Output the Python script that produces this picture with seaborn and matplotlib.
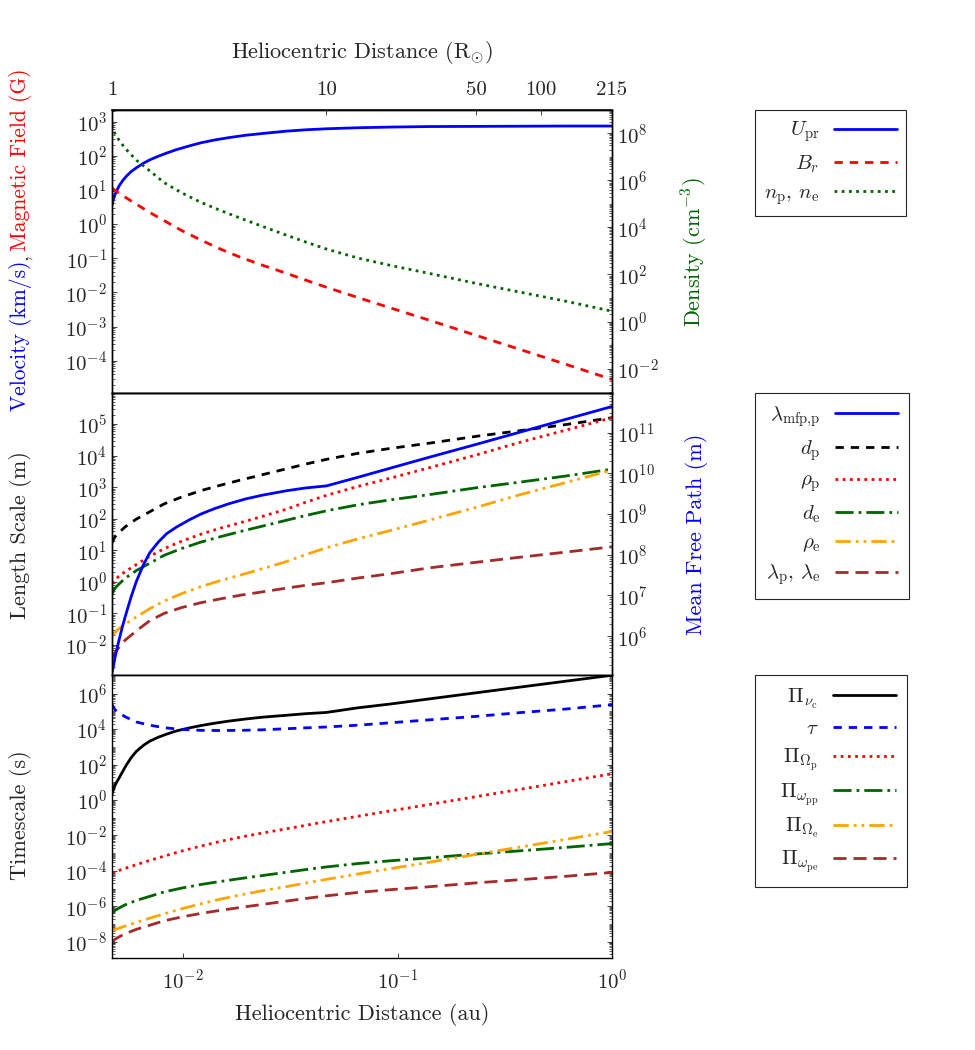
import numpy as np
import pandas as pd
import matplotlib
matplotlib.use('Agg')
import matplotlib.pyplot as plt
import seaborn as sns
from matplotlib.ticker import LogLocator, NullLocator, FixedLocator, NullFormatter

sns.set_theme(style='ticks')
plt.rcParams['font.family'] = 'serif'
plt.rcParams['font.serif'] = ['cmr10']
plt.rcParams['mathtext.fontset'] = 'cm'
plt.rcParams['axes.formatter.use_mathtext'] = True

# heliocentric distance in solar radii (215 R_sun = 1 au)
r_sun = [1, 1.03, 1.07, 1.15, 1.3, 1.5, 1.75, 2.1, 2.6, 3.2, 4, 5, 6.5, 8,
         10, 14, 20, 30, 50, 80, 130, 215]
# finer sampling for the curves that turn sharply near the Sun
r_fine = [1, 1.01, 1.03, 1.05, 1.08, 1.12, 1.17, 1.23, 1.3, 1.4, 1.5, 1.65, 1.8,
          2.0, 2.3, 2.6, 3.0, 3.5, 4.2, 5, 6.5, 8, 10, 14, 20, 30, 50, 80, 130, 215]

# panel 1 (log10 of values)
log_u_pr = [0.55, 0.68, 0.85, 0.97, 1.12, 1.27, 1.41, 1.54, 1.65, 1.78, 1.88, 1.99,
            2.08, 2.18, 2.29, 2.38, 2.46, 2.53, 2.60, 2.65, 2.72, 2.76, 2.79, 2.82,
            2.84, 2.855, 2.86, 2.865, 2.87, 2.87]
log_b_r = [1.05, 0.99, 0.92, 0.79, 0.58, 0.34, 0.10, -0.18, -0.47, -0.73, -0.98,
           -1.20, -1.44, -1.64, -1.85, -2.15, -2.46, -2.81, -3.26, -3.67, -4.10, -4.55]
log_n = [8.35, 8.0, 7.75, 7.36, 6.85, 6.40, 5.90, 5.48, 5.06, 4.72, 4.38, 4.05,
         3.67, 3.38, 3.08, 2.70, 2.38, 2.05, 1.62, 1.25, 0.87, 0.44]

# panel 2
log_mfp = [5.1, 5.2, 5.45, 5.65, 5.92, 6.25, 6.6, 6.98, 7.35, 7.75, 8.05, 8.32,
           8.52, 8.68, 8.86, 9.0, 9.13, 9.25, 9.37, 9.46, 9.57, 9.64, 9.69, 9.9,
           10.13, 10.39, 10.71, 11.01, 11.32, 11.64]
log_d_p = [1.24, 1.42, 1.54, 1.74, 1.99, 2.22, 2.47, 2.68, 2.89, 3.06, 3.23, 3.39,
           3.58, 3.73, 3.88, 4.07, 4.23, 4.39, 4.61, 4.79, 4.98, 5.20]
log_rho_p = [-0.05, 0.05, 0.16, 0.32, 0.55, 0.81, 1.05, 1.28, 1.51, 1.70, 1.88, 2.07,
             2.30, 2.52, 2.74, 3.02, 3.29, 3.61, 4.02, 4.42, 4.80, 5.20]
log_d_e = [-0.39, -0.21, -0.09, 0.11, 0.36, 0.59, 0.84, 1.05, 1.26, 1.43, 1.60, 1.76,
           1.95, 2.10, 2.25, 2.44, 2.60, 2.76, 2.98, 3.16, 3.35, 3.57]
log_rho_e = [-1.71, -1.61, -1.50, -1.34, -1.11, -0.85, -0.61, -0.38, -0.15, 0.04, 0.22,
             0.41, 0.64, 0.86, 1.08, 1.36, 1.63, 1.95, 2.36, 2.76, 3.14, 3.54]
log_debye = [-2.4, -2.25, -2.1, -1.85, -1.55, -1.23, -1.0, -0.82, -0.66, -0.54, -0.42,
             -0.32, -0.2, -0.11, -0.03, 0.12, 0.26, 0.44, 0.62, 0.78, 0.94, 1.11]

# panel 3
log_pi_nu = [0.29, 0.5, 0.8, 1.0, 1.25, 1.6, 2.0, 2.4, 2.75, 3.08, 3.32, 3.55, 3.72,
             3.9, 4.07, 4.2, 4.33, 4.45, 4.57, 4.67, 4.78, 4.87, 4.94, 5.2, 5.42,
             5.7, 6.05, 6.37, 6.7, 7.04]
log_tau = [5.4, 5.1, 4.95, 4.7, 4.4, 4.22, 4.08, 3.98, 3.93, 3.92, 3.93, 3.96,
           4.02, 4.07, 4.12, 4.22, 4.36, 4.52, 4.72, 4.93, 5.13, 5.38]
log_pi_op = [-4.12, -4.06, -3.99, -3.86, -3.65, -3.41, -3.17, -2.89, -2.60, -2.34, -2.09,
             -1.87, -1.63, -1.43, -1.22, -0.92, -0.61, -0.26, 0.19, 0.60, 1.03, 1.48]
log_pi_wpp = [-6.42, -6.24, -6.12, -5.92, -5.67, -5.44, -5.19, -4.98, -4.77, -4.60, -4.43,
              -4.27, -4.08, -3.93, -3.78, -3.59, -3.43, -3.27, -3.05, -2.87, -2.68, -2.46]
log_pi_oe = [-7.38, -7.32, -7.25, -7.12, -6.91, -6.67, -6.43, -6.15, -5.86, -5.60, -5.35,
             -5.13, -4.89, -4.69, -4.48, -4.18, -3.87, -3.52, -3.07, -2.66, -2.23, -1.78]
log_pi_wpe = [-8.05, -7.87, -7.75, -7.55, -7.30, -7.07, -6.82, -6.61, -6.40, -6.23, -6.06,
              -5.90, -5.71, -5.56, -5.41, -5.22, -5.06, -4.90, -4.68, -4.50, -4.31, -4.09]

FS = 15
LFS = 16
LW = 2
DASH = (0, (3, 2.5))
DOT = (0, (1, 1.6))
LDASH = (0, (4.7, 2.5))
DASHDOT = (0, (6.5, 1.8, 1, 1.8))
DASHDOTDOT = (0, (5.5, 1.8, 1, 1.8, 1, 1.8))
BLUE, RED, GREEN = '#0000ff', '#ff0000', '#006400'
ORANGE, BROWN = '#ffa500', '#a52a2a'


def draw(ax, logs, color, ls, label, r=r_sun):
    df = pd.DataFrame({'au': np.array(r) / 215.0, 'val': 10 ** np.array(logs)})
    sns.lineplot(data=df, x='au', y='val', ax=ax, color=color, linestyle=ls,
                 lw=LW, label=label, legend=False, sort=False)


def style_y(ax, majors):
    ax.yaxis.set_major_locator(FixedLocator(majors))
    ax.yaxis.set_minor_locator(LogLocator(base=10, subs=np.arange(1, 10), numticks=100))
    ax.yaxis.set_minor_formatter(NullFormatter())
    ax.tick_params(axis='y', which='both', direction='in', labelsize=FS)
    ax.tick_params(axis='y', which='major', length=3.5, width=0.6)
    ax.tick_params(axis='y', which='minor', length=2, width=0.5)
    ax.set_ylabel('')


def add_legend(ax, handles, labels, bpad=0.55):
    leg = ax.legend(handles, labels, loc='upper left', bbox_to_anchor=(1.286, 1.0),
                    borderaxespad=0, markerfirst=False, fontsize=FS, handlelength=3.0,
                    handletextpad=0.7, labelspacing=0.42, borderpad=bpad,
                    fancybox=False, framealpha=1, edgecolor='0.15')
    leg.get_frame().set_linewidth(0.8)


fig = plt.figure(figsize=(9.75, 10.5), dpi=100)
gs = fig.add_gridspec(3, 1, left=0.1149, right=0.6277, top=0.895, bottom=0.0879, hspace=0)
ax1 = fig.add_subplot(gs[0])
ax2 = fig.add_subplot(gs[1], sharex=ax1)
ax3 = fig.add_subplot(gs[2], sharex=ax1)
ax1b = ax1.twinx()
ax2b = ax2.twinx()

for a in (ax1, ax2, ax3, ax1b, ax2b):
    a.set_xscale('log')
    a.set_yscale('log')
    for s in a.spines.values():
        s.set_linewidth(1.0)
        s.set_color('black')

# panel 1 ---------------------------------------------------------------------
draw(ax1, log_u_pr, BLUE, '-', r'$U_{\mathrm{pr}}$', r_fine)
draw(ax1, log_b_r, RED, DASH, r'$B_r$')
draw(ax1b, log_n, GREEN, DOT, r'$n_{\mathrm{p}}$, $n_{\mathrm{e}}$')
ax1.set_ylim(1.15e-5, 2.15e3)
ax1b.set_ylim(9.5e-4, 9.4e8)
style_y(ax1, [1e-4, 1e-3, 1e-2, 1e-1, 1, 1e1, 1e2, 1e3])
style_y(ax1b, [1e-2, 1, 1e2, 1e4, 1e6, 1e8])
h1, l1 = ax1.get_legend_handles_labels()
h1b, l1b = ax1b.get_legend_handles_labels()
add_legend(ax1b, h1 + h1b, l1 + l1b, bpad=0.45)

# panel 2 ---------------------------------------------------------------------
draw(ax2b, log_mfp, BLUE, '-', r'$\lambda_{\mathrm{mfp{,}p}}$', r_fine)
draw(ax2, log_d_p, 'black', DASH, r'$d_{\mathrm{p}}$')
draw(ax2, log_rho_p, RED, DOT, r'$\rho_{\mathrm{p}}$')
draw(ax2, log_d_e, GREEN, DASHDOT, r'$d_{\mathrm{e}}$')
draw(ax2, log_rho_e, ORANGE, DASHDOTDOT, r'$\rho_{\mathrm{e}}$')
draw(ax2, log_debye, BROWN, LDASH, r'$\lambda_{\mathrm{p}}$, $\lambda_{\mathrm{e}}$')
ax2.set_ylim(1.1e-3, 9.8e5)
ax2b.set_ylim(1.1e5, 9.5e11)
style_y(ax2, [1e-2, 1e-1, 1, 1e1, 1e2, 1e3, 1e4, 1e5])
style_y(ax2b, [1e6, 1e7, 1e8, 1e9, 1e10, 1e11])
h2, l2 = ax2.get_legend_handles_labels()
h2b, l2b = ax2b.get_legend_handles_labels()
add_legend(ax2b, h2b + h2, l2b + l2)

# panel 3 ---------------------------------------------------------------------
# \hspace on the first label keeps this legend box as wide as the other two
draw(ax3, log_pi_nu, 'black', '-', r'$\hspace{1.2}\Pi_{\nu_{\mathrm{c}}}$', r_fine)
draw(ax3, log_tau, BLUE, DASH, r'$\tau$')
draw(ax3, log_pi_op, RED, DOT, r'$\Pi_{\Omega_{\mathrm{p}}}$')
draw(ax3, log_pi_wpp, GREEN, DASHDOT, r'$\Pi_{\omega_{\mathrm{pp}}}$')
draw(ax3, log_pi_oe, ORANGE, DASHDOTDOT, r'$\Pi_{\Omega_{\mathrm{e}}}$')
draw(ax3, log_pi_wpe, BROWN, LDASH, r'$\Pi_{\omega_{\mathrm{pe}}}$')
ax3.set_ylim(1.25e-9, 1.1e7)
style_y(ax3, [1e-8, 1e-6, 1e-4, 1e-2, 1, 1e2, 1e4, 1e6])
ax3.tick_params(axis='y', which='both', right=True)
h3, l3 = ax3.get_legend_handles_labels()
add_legend(ax3, h3, l3)

# x axes ----------------------------------------------------------------------
ax1.set_xlim(1 / 215.0, 1.0)
for a in (ax1, ax2, ax3, ax1b, ax2b):
    a.xaxis.set_minor_locator(NullLocator())
    a.set_xlabel('')
for a in (ax1, ax2, ax1b, ax2b):
    a.tick_params(axis='x', which='both', bottom=False, top=False, labelbottom=False)
ax3.set_xticks([1e-2, 1e-1, 1])
ax3.tick_params(axis='x', direction='in', length=3.5, width=0.6, labelsize=FS, pad=8)
ax3.set_xlabel('Heliocentric Distance (au)', fontsize=LFS, labelpad=7)

sec = ax1.secondary_xaxis('top', functions=(lambda x: x * 215.0, lambda r: r / 215.0))
sec.set_xticks([1, 10, 50, 100, 215], labels=['1', '10', '50', '100', '215'])
sec.xaxis.set_minor_locator(NullLocator())
sec.tick_params(axis='x', direction='in', length=3.5, width=0.6, labelsize=FS, pad=8)
sec.set_xlabel(r'Heliocentric Distance $(\mathrm{R}_{\odot})$', fontsize=LFS, labelpad=17)

# y labels --------------------------------------------------------------------
lx = 0.0215
TFS = 15.5
t1 = fig.text(lx, 0.609, 'Velocity (km/s)', color=BLUE, rotation=90,
              ha='center', va='bottom', fontsize=TFS)
t2 = ax1.annotate(',', xy=(lx, 1), xycoords=('figure fraction', t1), rotation=90,
                  ha='center', va='bottom', fontsize=TFS, annotation_clip=False)
ax1.annotate('Magnetic Field (G)', xy=(lx, 1), xycoords=('figure fraction', t2),
             xytext=(0, 2.5), textcoords='offset points', rotation=90, color=RED,
             ha='center', va='bottom', fontsize=TFS, annotation_clip=False)
fig.text(lx, 0.4905, 'Length Scale (m)', rotation=90, ha='center', va='center', fontsize=LFS)
fig.text(lx, 0.2238, 'Timescale (s)', rotation=90, ha='center', va='center', fontsize=LFS)
fig.text(0.7128, 0.76, r'Density (cm$^{-3}$)', color=GREEN, rotation=90,
         ha='center', va='center', fontsize=LFS)
fig.text(0.7146, 0.4914, 'Mean Free Path (m)', color=BLUE, rotation=90,
         ha='center', va='center', fontsize=LFS)

fig.savefig('out.png', dpi=100)
